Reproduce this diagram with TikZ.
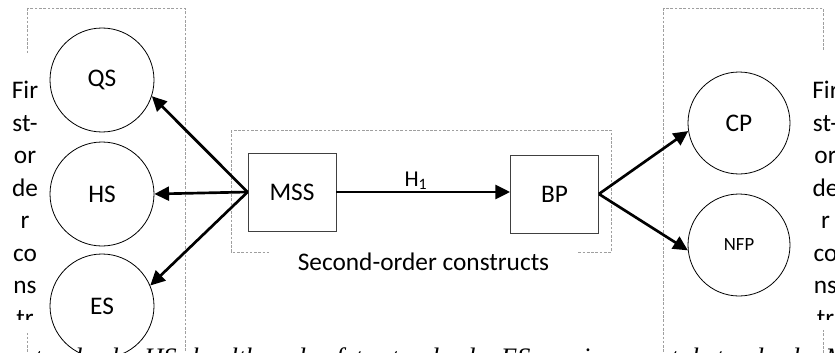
\documentclass[tikz,border=0pt]{standalone}
\usepackage{fontspec}
\setmainfont{Carlito}
\newfontfamily\notefont{Liberation Serif}
\usetikzlibrary{arrows.meta}

\begin{document}
\begin{tikzpicture}[x=0.75pt, y=-0.75pt,
  construct/.style={draw, circle, line width=0.6pt, minimum size=78pt, inner sep=0pt,
                    fill=white, font=\fontsize{19}{23}\selectfont},
  measure/.style={draw=black!75, rectangle, line width=0.6pt, minimum width=66pt,
                  minimum height=58.5pt, inner sep=0pt, fill=white, font=\fontsize{19}{23}\selectfont},
  frame/.style={draw=gray!75, line width=0.5pt, dash pattern=on 2pt off 1.2pt},
  column/.style={align=center, inner sep=0pt, anchor=north, font=\fontsize{19}{24.4}\selectfont},
  label/.style={inner sep=0pt, anchor=base, font=\fontsize{19}{23}\selectfont},
  arr/.style={-{Triangle[length=11pt, width=10.5pt]}, line width=2pt},
  note/.style={inner sep=0pt, anchor=base west, font=\notefont\itshape\fontsize{20}{24}\selectfont},
]
\useasboundingbox (0,0) rectangle (835,353);
\clip (0,0) rectangle (835,353);
\fill[white] (0,0) rectangle (835,353);

\draw[frame] (27,8) rectangle (185,380);
\draw[frame] (663,8) rectangle (823,380);
\draw[frame] (231,130) rectangle (611,252);

\node[construct] (qs) at (102,80)  {QS};
\node[construct] (hs) at (102,194) {HS};
\node[construct] (es) at (102,306) {ES};
\node[measure] (mss) at (292,192) {MSS};
\node[measure] (bp)  at (554.5,194) {BP};
\node[construct, minimum size=76.5pt] (cp) at (739,123) {CP};
\node[construct, minimum size=76.5pt, font=\fontsize{14}{17}\selectfont] (nfp) at (739,245) {NFP};

\draw[arr] (mss.west) -- (qs.342);
\draw[arr] (mss.west) -- (hs.east);
\draw[arr] (mss.west) -- (es.23);
\draw[arr] (mss.east) -- (mss.east -| bp.west);
\draw[arr] (bp.east) -- (cp.189);
\draw[arr] (bp.east) -- (nfp.186);

\node[label, font=\fontsize{17}{20}\selectfont] (h1) at (416,186) {H\textsubscript{1}};
\fill[white] (269,240) rectangle (577,285);
\node[label] (second) at (423.5,270) {Second-order constructs};

\fill[white] (3,54) rectangle (48,333);
\begin{scope}
  \clip (3,54) rectangle (48,319);
  \node[column] (firstleft) at (25,81) {Fir\\st-\\or\\de\\r\\co\\ns\\tr};
\end{scope}
\fill[white] (803,50) rectangle (835,330);
\begin{scope}
  \clip (803,50) rectangle (835,319);
  \node[column] (firstright) at (825.5,81) {Fir\\st-\\or\\de\\r\\co\\ns\\tr};
\end{scope}

\node[note] (legend) at (24,366) {standards; HS: health and safety standards; ES: environmental standards; MSS: management system standards};
\end{tikzpicture}
\end{document}
